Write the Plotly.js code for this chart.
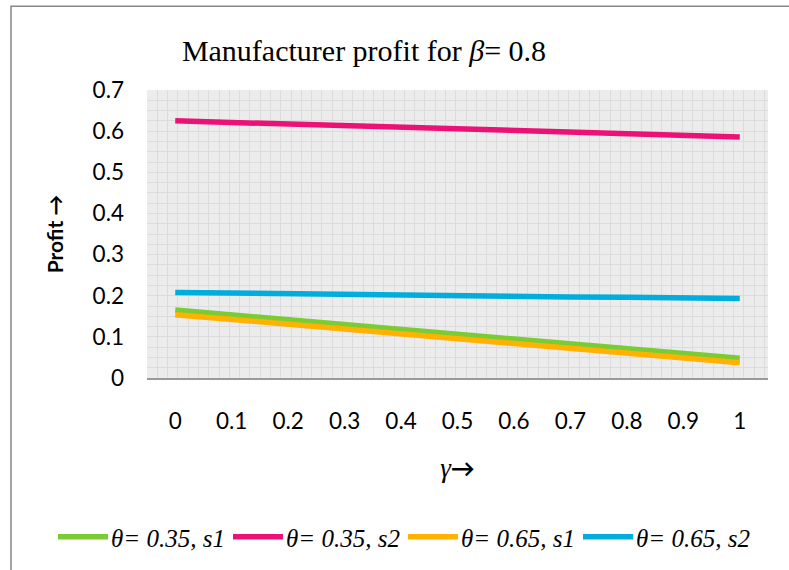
<!DOCTYPE html>
<html>
<head>
<meta charset="utf-8">
<script src="https://cdn.plot.ly/plotly-3.0.1.min.js"></script>
<style>
html,body{margin:0;padding:0;background:#fff;}
#chart{width:789px;height:570px;}
</style>
</head>
<body>
<div id="chart"></div>
<script>
const gamma = [0, 0.1, 0.2, 0.3, 0.4, 0.5, 0.6, 0.7, 0.8, 0.9, 1];
const tickLabels = ["0", "0.1", "0.2", "0.3", "0.4", "0.5", "0.6", "0.7", "0.8", "0.9", "1"];
const theta035_s1 = [0.165, 0.153, 0.141, 0.130, 0.118, 0.107, 0.095, 0.084, 0.072, 0.060, 0.048];
const theta035_s2 = [0.625, 0.621, 0.617, 0.613, 0.609, 0.605, 0.602, 0.598, 0.594, 0.590, 0.586];
const theta065_s1 = [0.154, 0.142, 0.130, 0.119, 0.107, 0.095, 0.084, 0.072, 0.060, 0.049, 0.037];
const theta065_s2 = [0.208, 0.206, 0.205, 0.203, 0.202, 0.200, 0.199, 0.197, 0.196, 0.194, 0.193];
const seriesNames = ["θ= 0.35, s1", "θ= 0.35, s2", "θ= 0.65, s1", "θ= 0.65, s2"];
const seriesColors = ["#7ACC35", "#EC1177", "#FFB300", "#00ADDC"];
const seriesValues = [theta035_s1, theta035_s2, theta065_s1, theta065_s2];

const traces = seriesValues.map((v, i) => ({
  x: gamma, y: v, type: "scatter", mode: "lines",
  name: "<i>" + seriesNames[i] + "</i>",
  line: {color: seriesColors[i], width: 5.5}
}));

const labelFont = {family: "Lato, 'Open Sans', sans-serif", size: 22.5, color: "#000"};

const layout = {
  width: 789, height: 570,
  margin: {l: 147, r: 21, t: 90, b: 191},
  paper_bgcolor: "#fff",
  plot_bgcolor: "#ececec",
  title: {
    text: "Manufacturer profit for <i>β</i>= 0.8",
    font: {family: "'Liberation Serif', 'Times New Roman', serif", size: 30, color: "#000"},
    x: 364 / 789, xanchor: "center", xref: "container",
    y: 1 - 50 / 570, yanchor: "middle", yref: "container"
  },
  xaxis: {
    range: [-0.05, 1.05],
    tickmode: "array", tickvals: gamma, ticktext: tickLabels,
    tickfont: labelFont,
    ticks: "", ticklabelstandoff: 22,
    showgrid: false, zeroline: false,
    showline: true, linecolor: "#9a9a9a", linewidth: 2,
    minor: {tick0: -0.05, dtick: 0.01823, showgrid: true, gridcolor: "#dcdcdc", gridwidth: 1, ticks: ""},
    title: {text: "<span style='font-family:Liberation Serif;font-style:italic;font-size:27px'>γ</span><b>→</b>", font: {family: "Lato, sans-serif", size: 24, color: "#000"}, standoff: 27},
    fixedrange: true
  },
  yaxis: {
    range: [0, 0.7], dtick: 0.1, tick0: 0,
    tickfont: labelFont,
    ticks: "", ticklabelstandoff: 22,
    showgrid: true, gridcolor: "#dcdcdc", gridwidth: 1,
    zeroline: false, showline: false,
    minor: {dtick: 0.025, showgrid: true, gridcolor: "#dcdcdc", gridwidth: 1, ticks: ""},
    title: {text: "<b>Profit →</b>", font: {family: "Lato, sans-serif", size: 21, color: "#000"}, standoff: 23},
    fixedrange: true
  },
  showlegend: true,
  legend: {
    orientation: "h", x: (53 - 147) / 621, xref: "paper", xanchor: "left",
    y: (379 - 537) / 289, yref: "paper", yanchor: "middle",
    font: {family: "'Liberation Serif', 'Times New Roman', serif", size: 25, color: "#000"},
    itemwidth: 48, entrywidth: 112, entrywidthmode: "pixels",
    tracegroupgap: 0, bgcolor: "rgba(0,0,0,0)"
  },
  shapes: [{
    type: "rect", xref: "paper", yref: "paper",
    x0: (11 - 147) / 621, x1: (800 - 147) / 621,
    y0: (379 - 580) / 289, y1: (379 - 6) / 289,
    line: {color: "#878787", width: 1.5}, fillcolor: "rgba(0,0,0,0)", layer: "below"
  }]
};

Plotly.newPlot("chart", traces, layout, {displayModeBar: false, staticPlot: true}).then(gd => {
  // lengthen legend line swatches to match the reference's longer keys
  gd.querySelectorAll(".legend .legendlines path").forEach(p => p.setAttribute("d", "M5,0h50"));
});
</script>
</body>
</html>
